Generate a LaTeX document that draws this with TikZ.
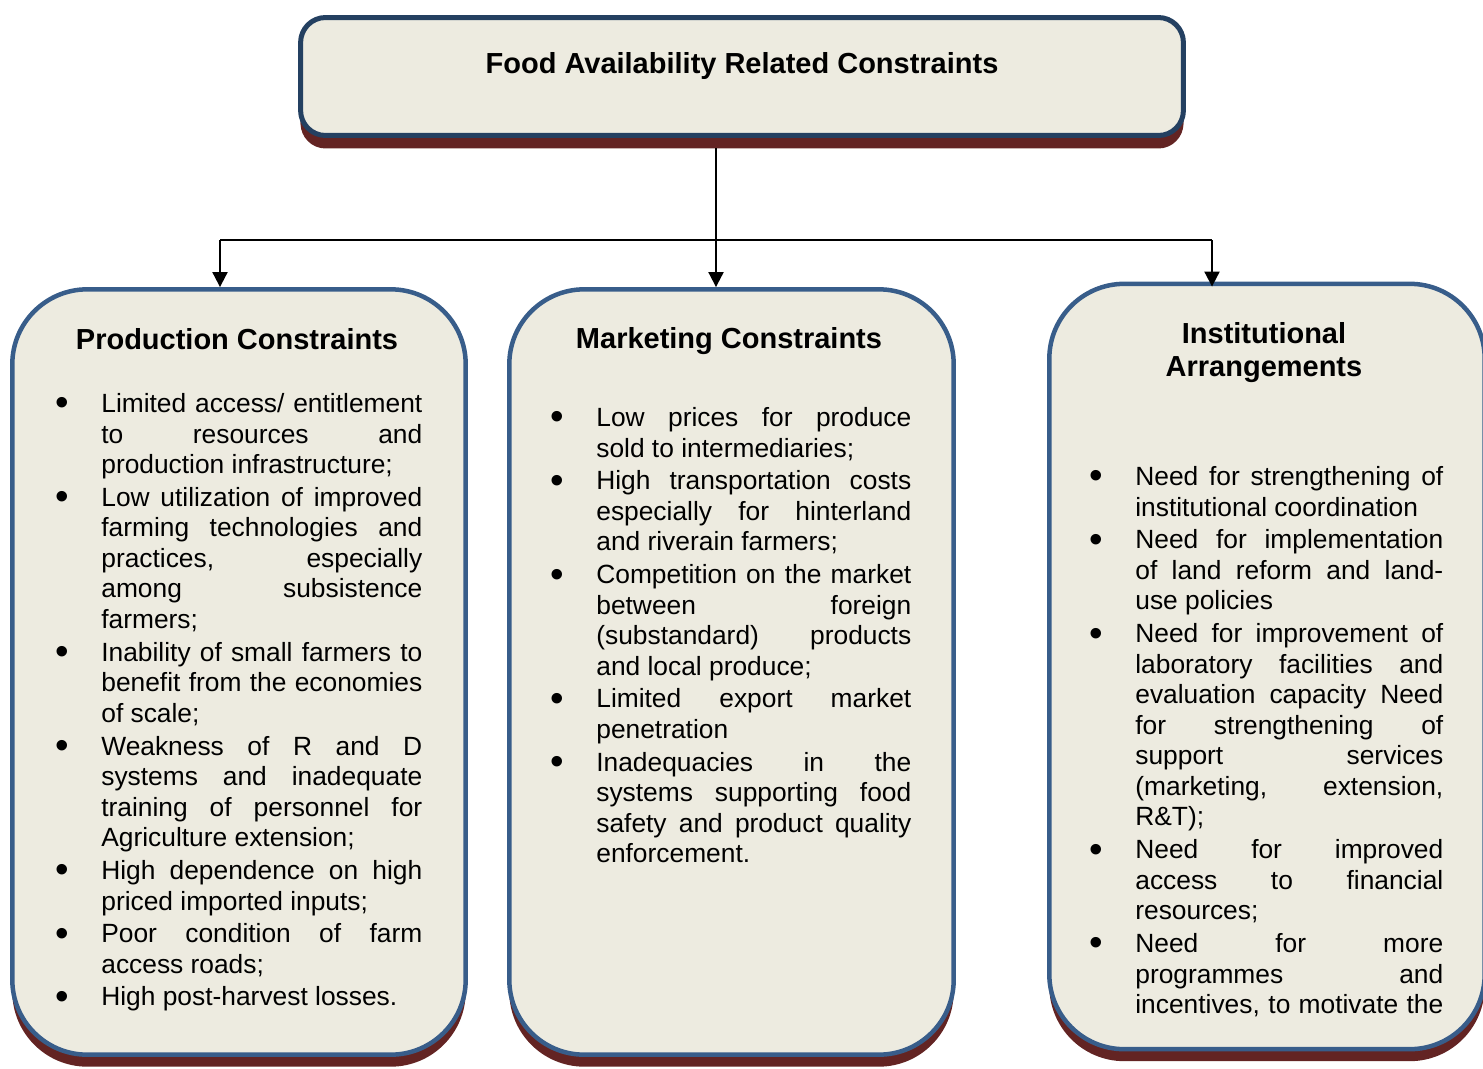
\documentclass[tikz,border=0pt]{standalone}
\usepackage{fontspec}
\setmainfont{Liberation Sans}
\usetikzlibrary{arrows.meta,shadows}
\definecolor{R}{RGB}{99,36,35}
\definecolor{B}{RGB}{56,93,138}
\definecolor{N}{RGB}{36,64,97}
\definecolor{F}{RGB}{237,235,224}
\newlength{\colw}
\newcommand{\jline}[1]{\makebox[\colw][s]{#1}}
\newcommand{\bul}{\llap{\raisebox{-2pt}{\fontsize{22}{22}\selectfont\textbullet}\hspace{0.64cm}}}
\tikzset{
  caja/.style={draw=B, line width=0.09cm, fill=F, rounded corners=1.5cm,
    drop shadow={shadow xshift=0cm, shadow yshift=-0.24cm, fill=R, opacity=1}},
  titulo/.style={font=\fontsize{16.5}{18.7}\selectfont\bfseries, align=center, inner sep=0pt},
  lista/.style={font=\fontsize{15}{17.4}\selectfont, align=left, anchor=north west,
    inner sep=0pt, execute at begin node={\setlength{\colw}{#1}}},
  flecha/.style={line width=0.04cm, -{Triangle[width=0.3cm,length=0.3cm]}}
}

\begin{document}
\begin{tikzpicture}[x=0.02cm, y=-0.02cm]
    \useasboundingbox (0,0) rectangle (1483,1068);

    %Caja superior
    \node[caja, draw=N, line width=0.1cm, rounded corners=0.5cm,
          drop shadow={shadow xshift=0cm, shadow yshift=-0.26cm, fill=R, opacity=1},
          minimum width=17.66cm, minimum height=2.36cm] (top) at (742,76.5) {};
    \node[titulo] (toptit) at (742,66) {Food Availability Related Constraints};

    %Las tres cajas de abajo
    \node[caja, minimum width=9.07cm, minimum height=15.31cm] (prod) at (239,672) {};
    \node[caja, minimum width=8.89cm, minimum height=15.31cm] (mkt) at (731.5,672) {};
    \node[caja, minimum width=8.71cm, minimum height=15.31cm] (inst) at (1267,666.5) {};

    %Flechas
    \coordinate (ts) at (716,148);
    \coordinate (jl) at (220,240);
    \coordinate (jr) at (1212,240);
    \draw[line width=0.04cm] (jl) -- (jr);
    \draw[flecha] (ts) -- (ts |- mkt.north);
    \draw[flecha] (jl) -- (jl |- prod.north);
    \draw[flecha] (jr) -- ([yshift=-0.1cm]jr |- inst.north);

    %Produccion
    \node[titulo] (ptit) at (237,339) {Production Constraints};
    \node[lista=6.42cm] (plist) at (101,393) {%
      \bul\jline{Limited access/ entitlement}\\
      \jline{to resources and}\\
      production infrastructure;\\[1.2pt]
      \bul\jline{Low utilization of improved}\\
      \jline{farming technologies and}\\
      \jline{practices, especially}\\
      \jline{among subsistence}\\
      farmers;\\[1.2pt]
      \bul\jline{Inability of small farmers to}\\
      \jline{benefit from the economies}\\
      of scale;\\[1.2pt]
      \bul\jline{Weakness of R and D}\\
      \jline{systems and inadequate}\\
      \jline{training of personnel for}\\
      Agriculture extension;\\[1.2pt]
      \bul\jline{High dependence on high}\\
      priced imported inputs;\\[1.2pt]
      \bul\jline{Poor condition of farm}\\
      access roads;\\[1.2pt]
      \bul High post-harvest losses.};

    %Mercadeo
    \node[titulo] (mtit) at (729,341) {Marketing Constraints};
    \node[lista=6.3cm] (mlist) at (596,407) {%
      \bul\jline{Low prices for produce}\\
      sold to intermediaries;\\[1.2pt]
      \bul\jline{High transportation costs}\\
      \jline{especially for hinterland}\\
      and riverain farmers;\\[1.2pt]
      \bul\jline{Competition on the market}\\
      \jline{between foreign}\\
      \jline{(substandard) products}\\
      and local produce;\\[1.2pt]
      \bul\jline{Limited export market}\\
      penetration\\[1.2pt]
      \bul\jline{Inadequacies in the}\\
      \jline{systems supporting food}\\
      \jline{safety and product quality}\\
      enforcement.};

    %Institucional
    \node[titulo] (itit) at (1264,352.5) {Institutional\\Arrangements};
    \node[lista=6.16cm] (ilist) at (1135,466) {%
      \bul\jline{Need for strengthening of}\\
      institutional coordination\\[1.2pt]
      \bul\jline{Need for implementation}\\
      \jline{of land reform and land-}\\
      use policies\\[1.2pt]
      \bul\jline{Need for improvement of}\\
      \jline{laboratory facilities and}\\
      \jline{evaluation capacity Need}\\
      \jline{for strengthening of}\\
      \jline{support services}\\
      \jline{(marketing, extension,}\\
      R\&T);\\[1.2pt]
      \bul\jline{Need for improved}\\
      \jline{access to financial}\\
      resources;\\[1.2pt]
      \bul\jline{Need for more}\\
      \jline{programmes and}\\
      \jline{incentives, to motivate the}};
\end{tikzpicture}
\end{document}
